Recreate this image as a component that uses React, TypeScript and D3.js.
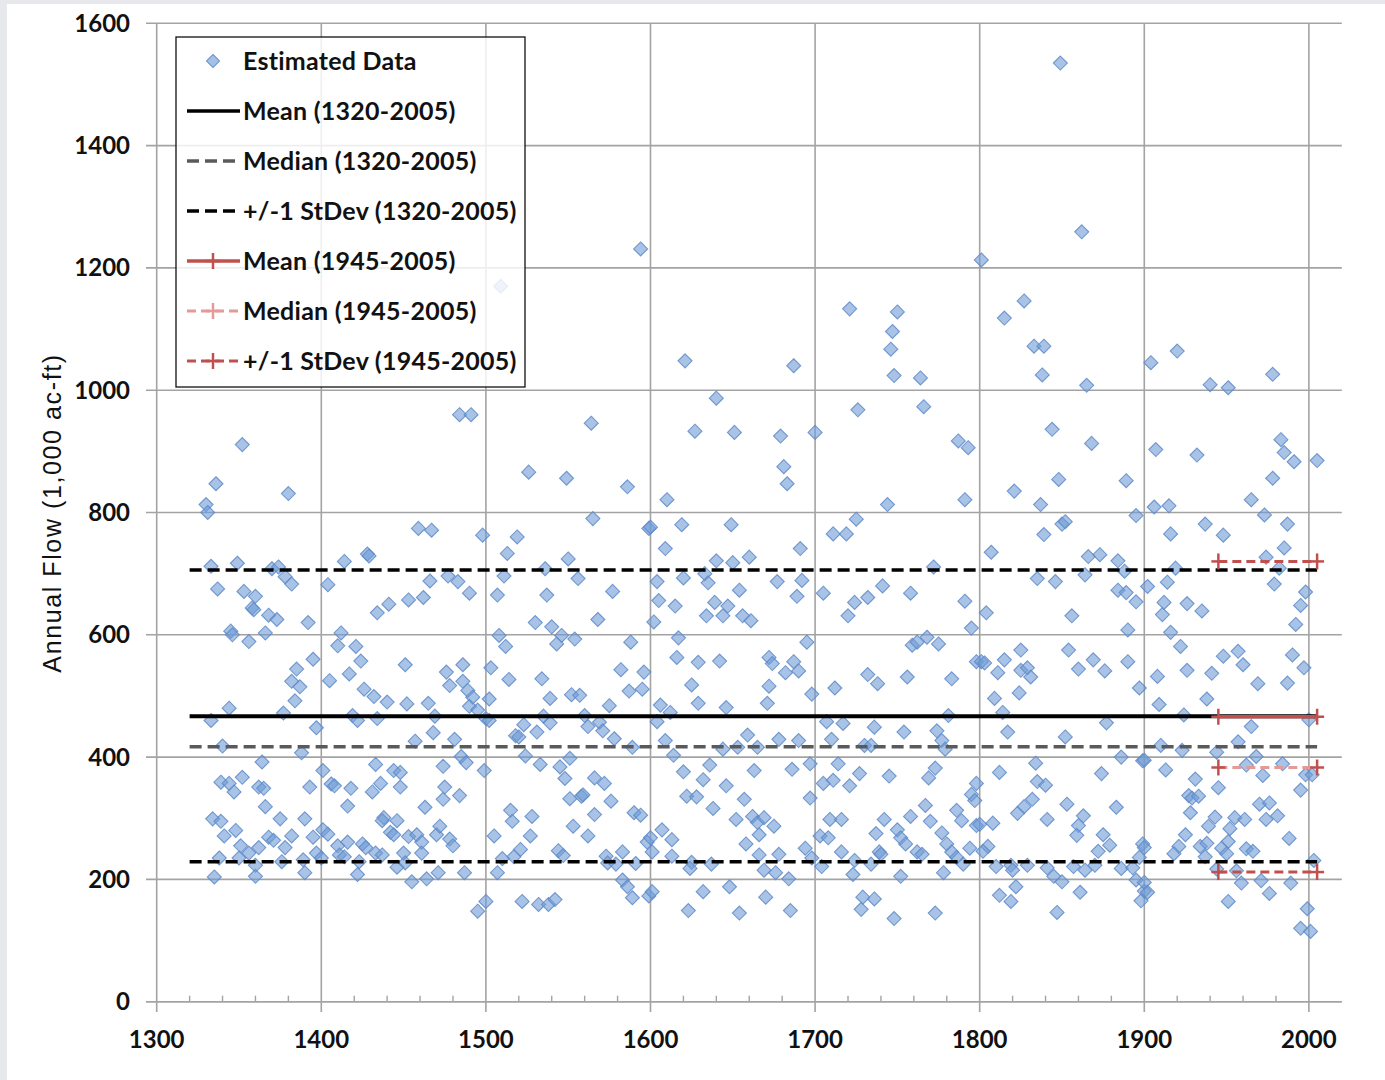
import React from "react";
import * as d3 from "d3";

// ---- Data: [year, annual flow (1,000 ac-ft)] ----
const data1300s: [number, number][] = [
  [1352,911],[1336,847],[1330,813],[1331,800],[1380,831],[1333,712],[1349,717],[1370,708],[1374,711],[1378,695],
  [1382,683],[1337,675],[1353,671],[1360,663],[1358,644],[1359,641],[1368,632],[1373,625],[1392,620],[1345,606],
  [1346,600],[1356,589],[1366,603],[1395,560],[1385,544],[1382,524],[1387,515],[1384,492],[1333,460],[1344,480],
  [1377,472],[1397,448],[1340,418],[1388,407],[1364,392],[1339,359],[1344,357],[1347,343],[1352,367],[1362,351],
  [1365,349],[1393,351],[1366,319],[1334,299],[1339,295],[1375,299],[1390,299],[1341,271],[1348,280],[1351,255],
  [1356,243],[1362,252],[1368,269],[1371,264],[1378,252],[1382,271],[1395,269],[1338,235],[1350,235],[1360,223],
  [1376,229],[1389,232],[1335,204],[1360,205],[1390,211],[1397,243],
];
const data1400s: [number, number][] = [
  [1484,960],[1491,960],[1459,774],[1467,771],[1498,763],[1414,720],[1428,732],[1429,729],[1404,682],[1466,688],
  [1477,696],[1483,687],[1490,668],[1434,636],[1441,650],[1453,657],[1462,661],[1412,603],[1410,582],[1421,581],
  [1424,557],[1451,551],[1405,525],[1417,536],[1476,539],[1486,551],[1426,511],[1432,499],[1440,490],[1452,487],
  [1465,488],[1478,517],[1486,524],[1489,509],[1492,498],[1490,483],[1495,477],[1419,468],[1422,460],[1434,463],
  [1469,467],[1500,463],[1468,440],[1457,426],[1481,429],[1485,401],[1488,391],[1499,378],[1401,378],[1433,388],
  [1444,378],[1448,375],[1474,385],[1406,356],[1408,353],[1418,349],[1416,320],[1431,343],[1436,357],[1448,351],
  [1475,351],[1474,331],[1484,337],[1463,318],[1438,301],[1437,296],[1446,296],[1442,277],[1444,273],[1453,270],
  [1458,273],[1461,261],[1470,273],[1472,287],[1478,266],[1480,255],[1401,281],[1404,274],[1410,255],[1416,261],
  [1425,258],[1427,252],[1433,243],[1437,240],[1411,240],[1414,237],[1400,235],[1423,229],[1450,243],[1461,243],
  [1422,208],[1446,220],[1451,227],[1455,196],[1464,201],[1471,211],[1487,211],[1500,164],[1495,148],
];
const data1500s: [number, number][] = [
  [1564,946],[1526,866],[1549,856],[1586,842],[1565,790],[1599,774],[1519,760],[1513,733],[1550,724],[1511,696],
  [1536,708],[1556,692],[1507,665],[1537,665],[1577,671],[1530,620],[1540,613],[1546,599],[1543,585],[1554,593],
  [1568,625],[1508,599],[1512,581],[1588,588],[1503,546],[1514,527],[1534,528],[1539,496],[1552,502],[1557,501],
  [1575,484],[1582,543],[1587,508],[1596,539],[1595,511],[1502,495],[1502,460],[1523,453],[1535,467],[1539,456],
  [1531,441],[1518,435],[1520,433],[1560,468],[1562,450],[1569,457],[1571,443],[1578,430],[1589,416],[1524,402],
  [1533,388],[1545,384],[1551,398],[1548,365],[1566,366],[1572,357],[1551,332],[1558,336],[1559,338],[1576,328],
  [1515,313],[1516,295],[1528,303],[1566,306],[1590,309],[1594,305],[1553,287],[1505,271],[1527,271],[1562,271],
  [1521,249],[1517,237],[1510,234],[1507,211],[1544,247],[1547,239],[1573,238],[1574,227],[1579,225],[1583,245],
  [1591,226],[1598,261],[1583,199],[1586,188],[1589,170],[1599,173],[1522,164],[1532,159],[1538,159],[1542,167],
  [1594,1231],[1509,1170],
];
const data1600s: [number, number][] = [
  [1621,1048],[1687,1040],[1640,987],[1627,933],[1651,931],[1679,925],[1700,931],[1681,875],[1683,847],[1610,821],
  [1600,776],[1619,780],[1649,780],[1609,741],[1691,741],[1640,721],[1650,718],[1660,727],[1633,700],[1635,685],
  [1604,687],[1620,693],[1654,673],[1677,687],[1692,689],[1689,663],[1605,656],[1615,647],[1639,653],[1647,647],
  [1634,631],[1644,631],[1656,631],[1661,623],[1602,621],[1617,595],[1695,588],[1616,563],[1629,555],[1642,557],
  [1672,563],[1674,553],[1682,538],[1687,556],[1690,541],[1625,518],[1672,516],[1698,503],[1629,488],[1671,488],
  [1606,485],[1612,473],[1646,481],[1604,458],[1609,427],[1659,436],[1678,429],[1690,427],[1644,413],[1653,416],
  [1665,416],[1614,403],[1636,387],[1620,376],[1632,363],[1646,353],[1663,378],[1686,380],[1697,389],[1622,336],
  [1628,335],[1638,316],[1657,331],[1697,333],[1652,298],[1662,303],[1665,293],[1669,301],[1675,287],[1607,281],
  [1613,265],[1600,268],[1658,258],[1666,273],[1601,245],[1613,238],[1625,228],[1624,218],[1637,225],[1666,240],
  [1669,215],[1676,211],[1678,241],[1684,201],[1694,251],[1698,235],[1601,180],[1632,180],[1648,188],[1670,171],
  [1623,149],[1654,145],[1685,149],
];
const data1700s: [number, number][] = [
  [1721,1133],[1750,1128],[1747,1096],[1746,1067],[1748,1024],[1764,1020],[1726,968],[1766,973],[1787,917],[1793,906],
  [1744,813],[1791,821],[1725,789],[1711,765],[1719,765],[1772,711],[1705,668],[1724,653],[1720,631],[1732,661],
  [1741,680],[1758,668],[1791,655],[1795,611],[1759,583],[1762,588],[1768,596],[1775,585],[1798,556],[1732,535],
  [1738,520],[1756,531],[1783,528],[1712,513],[1707,458],[1717,455],[1736,449],[1754,441],[1774,443],[1777,427],
  [1779,413],[1781,468],[1710,429],[1730,419],[1734,419],[1714,389],[1727,373],[1745,369],[1769,366],[1773,382],
  [1705,357],[1711,362],[1721,353],[1798,357],[1795,339],[1797,329],[1709,298],[1716,298],[1742,298],[1758,303],
  [1767,321],[1770,295],[1786,313],[1789,296],[1798,288],[1703,271],[1708,268],[1737,275],[1750,281],[1752,268],
  [1755,258],[1777,276],[1780,258],[1716,245],[1739,245],[1740,241],[1762,245],[1765,241],[1783,245],[1786,236],
  [1790,225],[1794,251],[1704,221],[1724,231],[1734,225],[1723,208],[1752,205],[1778,211],[1729,171],[1736,168],
  [1728,151],[1748,136],[1773,145],
];
const data1800s: [number, number][] = [
  [1849,1535],[1801,1213],[1862,1259],[1827,1146],[1815,1118],[1833,1072],[1839,1072],[1838,1025],[1865,1008],[1844,936],
  [1868,913],[1821,835],[1848,854],[1889,852],[1837,813],[1895,795],[1850,781],[1852,785],[1839,764],[1807,735],
  [1866,728],[1873,731],[1884,721],[1888,704],[1835,692],[1846,687],[1864,698],[1884,673],[1889,669],[1895,654],
  [1804,636],[1856,631],[1890,608],[1801,556],[1803,554],[1811,538],[1815,559],[1825,575],[1825,542],[1829,546],
  [1831,531],[1854,575],[1860,544],[1869,559],[1876,541],[1890,556],[1897,513],[1824,505],[1809,496],[1814,473],
  [1817,441],[1852,433],[1877,456],[1886,400],[1899,394],[1834,390],[1812,375],[1835,360],[1840,354],[1874,373],
  [1832,331],[1827,319],[1823,308],[1853,323],[1863,304],[1841,298],[1883,318],[1860,288],[1859,272],[1808,292],
  [1800,290],[1805,254],[1802,246],[1875,273],[1879,256],[1872,246],[1899,258],[1810,221],[1819,223],[1820,215],
  [1829,223],[1841,219],[1845,205],[1850,196],[1857,221],[1864,215],[1870,223],[1886,218],[1893,219],[1895,199],
  [1897,236],[1822,188],[1812,174],[1819,164],[1847,146],[1861,179],[1898,165],[1900,181],
];
const data1900s: [number, number][] = [
  [1920,1064],[1904,1045],[1940,1009],[1951,1004],[1978,1026],[1907,903],[1932,894],[1983,919],[1985,898],[1991,883],
  [2005,885],[1978,856],[1965,821],[1973,796],[1987,781],[1906,809],[1915,811],[1916,765],[1937,781],[1948,763],
  [1985,742],[1974,727],[1919,709],[1982,709],[1902,679],[1914,686],[1979,683],[1912,653],[1926,651],[1935,639],
  [1911,633],[1998,670],[1995,648],[1992,617],[1916,604],[1922,581],[1948,565],[1957,573],[1960,551],[1990,567],
  [1997,546],[1908,532],[1926,542],[1941,537],[1969,520],[1987,521],[1938,495],[1909,486],[1924,469],[1965,450],
  [2000,461],[1957,425],[1910,419],[1923,411],[1944,408],[1968,401],[1900,395],[1913,379],[1962,387],[1972,370],
  [1984,389],[1998,371],[2002,371],[1931,364],[1945,350],[1995,346],[1927,337],[1929,333],[1933,336],[1970,323],
  [1976,325],[1928,309],[1943,302],[1955,301],[1961,298],[1974,298],[1981,304],[1939,287],[1952,283],[1925,273],
  [1988,267],[1921,254],[1918,242],[1934,254],[1938,259],[1947,251],[1951,262],[1962,250],[1966,246],[1900,252],
  [1937,237],[1950,242],[2003,231],[1944,217],[1956,214],[1959,194],[1971,198],[1976,177],[1989,194],[1951,164],
  [1900,195],[1902,179],[1999,152],[1995,120],[2001,115],
];

// Summary statistics
const statsLong = { start: 1320, end: 2005, mean: 467, median: 417, sdHigh: 706, sdLow: 229 };
const statsRecent = { start: 1945, end: 2005, mean: 466, median: 383, sdHigh: 720, sdLow: 212 };

const xTicks = [1300, 1400, 1500, 1600, 1700, 1800, 1900, 2000];
const yTicks = [0, 200, 400, 600, 800, 1000, 1200, 1400, 1600];

const legendItems = [
  "Estimated Data",
  "Mean (1320-2005)",
  "Median (1320-2005)",
  "+/-1 StDev (1320-2005)",
  "Mean (1945-2005)",
  "Median (1945-2005)",
  "+/-1 StDev (1945-2005)",
];

const FONT = "Lato, 'Open Sans', 'Liberation Sans', sans-serif";
const TITLE_FONT = "'Liberation Sans', Arial, sans-serif";
const GRID = "#a3a3a3";
const RED = "#c0504d";
const PINK = "#e39a99";

export default function App() {
  const allData = [...data1300s, ...data1400s, ...data1500s, ...data1600s, ...data1700s, ...data1800s, ...data1900s];
  const x = d3.scaleLinear().domain([1300, 2020]).range([156.7, 1341.8]);
  const y = d3.scaleLinear().domain([0, 1600]).range([1001.7, 23.3]);
  const xMax = x.range()[1];
  const diamond = (cx: number, cy: number, r: number) =>
    `M${cx},${cy - r}L${cx + r},${cy}L${cx},${cy + r}L${cx - r},${cy}Z`;
  const minorTicks = d3.range(1300, 2020, 20).filter((t) => t % 100 !== 0);

  const plus = (cx: number, cy: number, color: string, key: string) => (
    <g key={key} stroke={color} strokeWidth={2.5}>
      <line x1={cx - 7} x2={cx + 7} y1={cy} y2={cy} />
      <line x1={cx} x2={cx} y1={cy - 8} y2={cy + 8} />
    </g>
  );

  const redLine = (v: number, color: string, dash: string | undefined, key: string, width = 3) => {
    const x1 = x(statsRecent.start), x2 = x(statsRecent.end), yy = y(v);
    return (
      <g key={key}>
        <line x1={x1} x2={x2} y1={yy} y2={yy} stroke={color} strokeWidth={width} strokeDasharray={dash} />
        {plus(x1, yy, RED, key + "a")}
        {plus(x2, yy, RED, key + "b")}
      </g>
    );
  };

  const legX = 176, legY = 37, legW = 349, legH = 350;
  const rowY = (i: number) => 61 + i * 50;

  return (
    <svg width={1385} height={1080} style={{ position: "absolute", left: 0, top: 0, background: "#fff" }}>
      <rect x={0} y={0} width={1385} height={1080} fill="#fff" />
      <rect x={0} y={0} width={7} height={1080} fill="#e6e8ec" />
      <rect x={0} y={0} width={1385} height={4} fill="#e6e8ec" />

      {/* grid */}
      {yTicks.map((t) => (
        <line key={"gy" + t} x1={146} x2={xMax} y1={y(t)} y2={y(t)} stroke={GRID} strokeWidth={1.6} />
      ))}
      {xTicks.map((t) => (
        <line key={"gx" + t} x1={x(t)} x2={x(t)} y1={y(1600)} y2={1012} stroke={GRID} strokeWidth={1.6} />
      ))}
      {minorTicks.map((t) => (
        <line key={"mt" + t} x1={x(t)} x2={x(t)} y1={y(0)} y2={y(0) - 6} stroke={GRID} strokeWidth={1.4} />
      ))}

      {/* data points */}
      <g>
        {allData.map(([yr, v], i) => (
          <path
            key={"p" + i}
            d={diamond(x(yr), y(v), 7)}
            fill="#6e9bd6"
            fillOpacity={0.6}
            stroke="#5f8bc8"
            strokeOpacity={0.85}
            strokeWidth={1.1}
          />
        ))}
      </g>

      {/* long-term statistics */}
      <line x1={x(statsLong.start)} x2={x(statsLong.end)} y1={y(statsLong.sdHigh)} y2={y(statsLong.sdHigh)} stroke="#000" strokeWidth={3.5} strokeDasharray="12,6" />
      <line x1={x(statsLong.start)} x2={x(statsLong.end)} y1={y(statsLong.sdLow)} y2={y(statsLong.sdLow)} stroke="#000" strokeWidth={3.5} strokeDasharray="12,6" />
      <line x1={x(statsLong.start)} x2={x(statsLong.end)} y1={y(statsLong.median)} y2={y(statsLong.median)} stroke="#5a5a5a" strokeWidth={3.5} strokeDasharray="12,6" />
      <line x1={x(statsLong.start)} x2={x(statsLong.end)} y1={y(statsLong.mean)} y2={y(statsLong.mean)} stroke="#000" strokeWidth={4} />

      {/* recent statistics */}
      {redLine(statsRecent.sdHigh, RED, "9,5", "rsh")}
      {redLine(statsRecent.sdLow, RED, "9,5", "rsl")}
      {redLine(statsRecent.median, PINK, "9,5", "rmd")}
      {redLine(statsRecent.mean, RED, undefined, "rmn", 3.5)}

      {/* axis line */}
      <line x1={146} x2={xMax} y1={y(0)} y2={y(0)} stroke={GRID} strokeWidth={1.6} />

      {/* tick labels */}
      {yTicks.map((t) => (
        <text key={"yl" + t} x={130} y={y(t)} dy="0.35em" textAnchor="end" fontFamily={FONT} fontWeight={700} fontSize={24} fill="#111">
          {t}
        </text>
      ))}
      {xTicks.map((t) => (
        <text key={"xl" + t} x={x(t)} y={1040} dy="0.35em" textAnchor="middle" fontFamily={FONT} fontWeight={700} fontSize={24} fill="#111">
          {t}
        </text>
      ))}
      <text transform={`translate(52,513) rotate(-90)`} dy="0.35em" textAnchor="middle" fontFamily={TITLE_FONT} fontSize={25} letterSpacing={1.6} fill="#111">
        Annual Flow (1,000 ac-ft)
      </text>

      {/* legend */}
      <rect x={legX} y={legY} width={legW} height={legH} fill="#fff" fillOpacity={0.82} stroke="#111" strokeWidth={1.3} />
      {legendItems.map((label, i) => {
        const yy = rowY(i);
        const x1 = 187, x2 = 240, xm = 213;
        let sample: React.ReactNode = null;
        if (i === 0) sample = <path d={diamond(xm, yy, 6.5)} fill="#8fb2e0" fillOpacity={0.8} stroke="#6f98cf" strokeWidth={1.1} />;
        if (i === 1) sample = <line x1={x1} x2={x2} y1={yy} y2={yy} stroke="#000" strokeWidth={3.5} />;
        if (i === 2) sample = <line x1={x1} x2={x2} y1={yy} y2={yy} stroke="#5a5a5a" strokeWidth={3.5} strokeDasharray="12,6" />;
        if (i === 3) sample = <line x1={x1} x2={x2} y1={yy} y2={yy} stroke="#000" strokeWidth={3.5} strokeDasharray="12,6" />;
        if (i === 4)
          sample = (
            <g>
              <line x1={x1} x2={x2} y1={yy} y2={yy} stroke={RED} strokeWidth={3.5} />
              {plus(xm, yy, RED, "l4")}
            </g>
          );
        if (i === 5)
          sample = (
            <g>
              <line x1={x1} x2={x2} y1={yy} y2={yy} stroke={PINK} strokeWidth={3} strokeDasharray="9,5" />
              {plus(xm, yy, PINK, "l5")}
            </g>
          );
        if (i === 6)
          sample = (
            <g>
              <line x1={x1} x2={x2} y1={yy} y2={yy} stroke={RED} strokeWidth={3} strokeDasharray="9,5" />
              {plus(xm, yy, RED, "l6")}
            </g>
          );
        return (
          <g key={"lg" + i}>
            {sample}
            <text x={243} y={yy} dy="0.35em" fontFamily={FONT} fontWeight={700} fontSize={25} letterSpacing={0.25} fill="#111">
              {label}
            </text>
          </g>
        );
      })}
    </svg>
  );
}
